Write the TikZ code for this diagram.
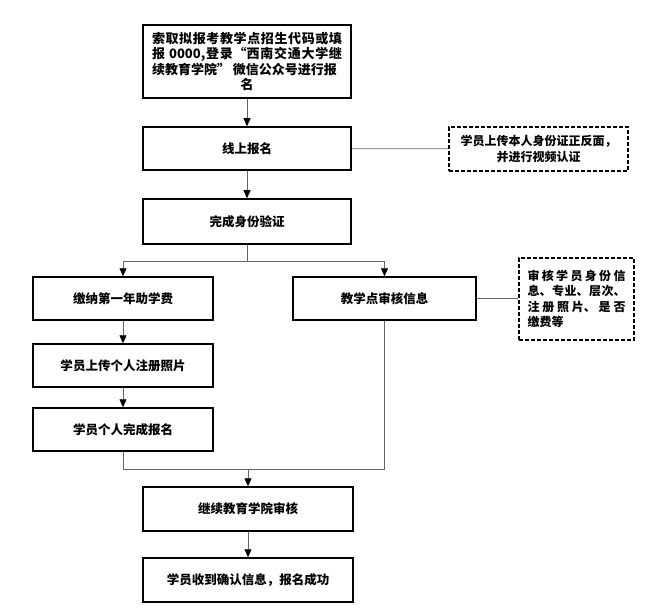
\documentclass[tikz,border=0pt]{standalone}
\usepackage{fontspec}
\setmainfont{Noto Sans CJK SC}
\usetikzlibrary{arrows.meta}
\XeTeXlinebreaklocale "zh"
\XeTeXlinebreakskip=0pt plus 1pt
\tikzset{
  box/.style={draw,line width=1.5bp,inner sep=0pt,minimum width=208bp,minimum height=44bp,
    font=\fontsize{12.5bp}{15bp}\selectfont\bfseries},
  note/.style={draw,line width=1.4bp,dash pattern=on 4bp off 2bp,inner sep=0pt,
    font=\fontsize{12bp}{15.5bp}\selectfont\bfseries},
  link/.style={draw=black!60,line width=0.8bp},
  arr/.style={link,-{Triangle[length=8bp,width=7bp,color=black]}}
}
\begin{document}
\begin{tikzpicture}[x=1bp,y=-1bp]
  \useasboundingbox (0,0) rectangle (658,607);
  \draw
    (247,61.5) node[box,minimum height=73bp,text width=190bp,align=justify,
      font=\fontsize{13bp}{15.5bp}\selectfont\bfseries] (enter)
      {索取拟报考教学点招生代码或填\linebreak 报 0000,登录“西南交通大学继\linebreak 续教育学院”\ 微信公众号进行报\par{\centering 名\par}}
    (247,148.5) node[box,minimum height=43bp] (online){线上报名}
    (538.5,149) node[note,minimum width=179bp,minimum height=44bp,align=center] (idcard)
      {学员上传本人身份证正反面，\\并进行视频认证}
    (247,221.5) node[box,minimum height=45bp] (verify){完成身份验证}
    (123,298.5) node[box,minimum width=180bp,minimum height=43bp] (fee){缴纳第一年助学费}
    (384.5,298.5) node[box,minimum width=183bp,minimum height=43bp] (check){教学点审核信息}
    (576.5,299) node[note,minimum width=115bp,minimum height=82bp,text width=98bp,align=justify] (items)
      {审核学员身份信\linebreak 息、专业、层次、\linebreak 注册照片、是否\linebreak 缴费等}
    (123,365.5) node[box,minimum width=180bp,minimum height=43bp] (photo){学员上传个人注册照片}
    (123,429.5) node[box,minimum width=180bp,minimum height=43bp] (done){学员个人完成报名}
    (248,509) node[box,minimum width=210bp,minimum height=44bp] (review){继续教育学院审核}
    (248,580) node[box,minimum width=210bp,minimum height=44bp] (success){学员收到确认信息，报名成功};
  \coordinate (fork) at (247,261);
  \coordinate (merge) at (248,469);
  \begin{scope}[arr]
    \draw (enter) to (online);
    \draw (online) to (verify);
    \draw (verify.south) -- (fork) -| (fee.north);
    \draw (fork) -| (check.north);
    \draw (fee) to (photo);
    \draw (photo) to (done);
    \draw (merge) to (review);
    \draw (review) to (success);
  \end{scope}
  \begin{scope}[link]
    \draw (online) to (idcard);
    \draw (check.east) to (check.east -| items.west);
    \draw (done.south) |- (merge);
    \draw (check.south) |- (merge);
  \end{scope}
\end{tikzpicture}
\end{document}
